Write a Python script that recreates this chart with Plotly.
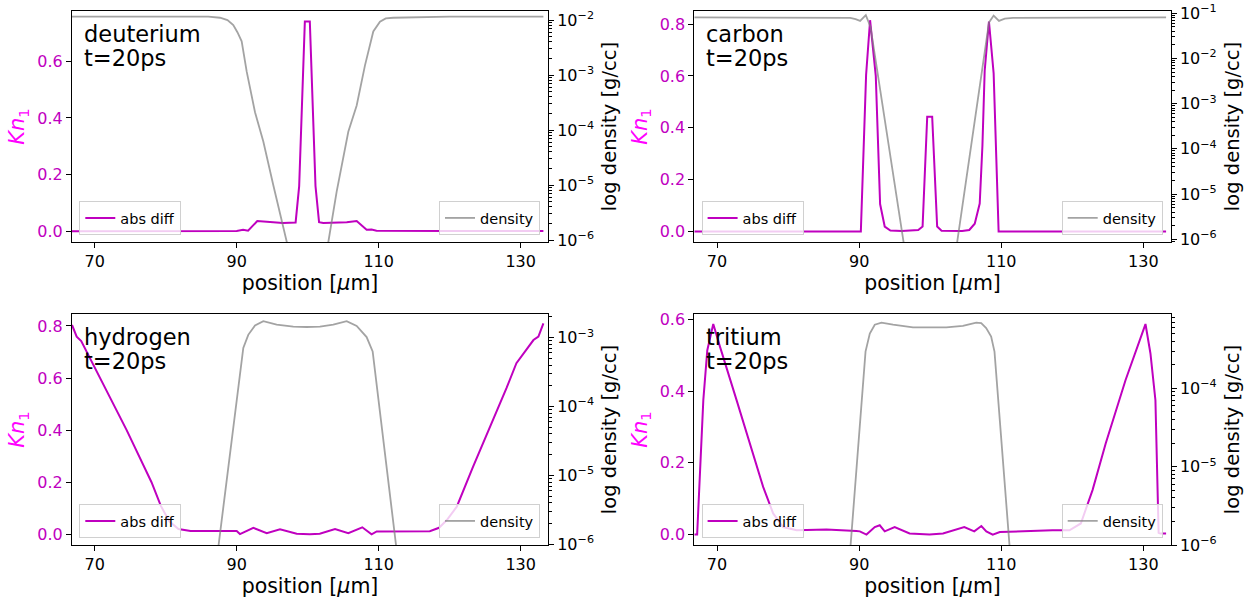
import plotly.graph_objects as go

# ---------------- data ----------------
species = ["deuterium", "carbon", "hydrogen", "tritium"]
time_label = "t=20ps"

# deuterium
deut_kn_x = [66.8, 80, 90.0, 90.9, 91.6, 92.9, 94.2, 96.5, 98.3, 98.8, 99.6, 100.3, 101.1, 101.6, 102.2,
             105.5, 106.9, 108.3, 109.0, 109.7, 120, 133.2]
deut_kn_y = [0.001, 0.001, 0.002, 0.006, 0.003, 0.037, 0.035, 0.030, 0.032, 0.16, 0.74, 0.74, 0.16, 0.033,
             0.030, 0.033, 0.037, 0.006, 0.007, 0.003, 0.002, 0.002]
deut_rho_x = [66.8, 86.0, 87.65, 88.7, 89.52, 90.1, 90.70, 91.41, 92.58, 93.75, 95.15, 97.04, 98.1,
              102.3, 102.90, 104.08, 105.72, 106.90, 108.07, 109.24, 110.18, 111.0, 112.06, 120.0, 133.2]
deut_rho_y = [1.15e-2, 1.15e-2, 1.10e-2, 1.0e-2, 8.1e-3, 6.0e-3, 4.1e-3, 1.15e-3, 2.1e-4, 6.2e-5, 1.0e-5,
              9.1e-7, 2.5e-7, 2.5e-7, 9.1e-7, 7.6e-6, 9.3e-5, 2.8e-4, 1.5e-3, 6.2e-3, 9.3e-3, 1.07e-2,
              1.1e-2, 1.15e-2, 1.15e-2]

# carbon
carb_kn_x = [66.8, 90.24, 90.98, 91.54, 92.34, 92.95, 93.6, 94.4, 96.0, 98.32, 98.93, 99.58, 100.28,
             100.98, 101.6, 104.5, 105.5, 106.27, 106.97, 107.35, 107.67, 108.27, 108.93, 109.63, 133.2]
carb_kn_y = [0.0, 0.0, 0.604, 0.815, 0.6, 0.106, 0.019, 0.004, 0.002, 0.006, 0.019, 0.443, 0.443,
             0.019, 0.003, 0.002, 0.006, 0.03, 0.108, 0.33, 0.62, 0.81, 0.61, 0.0, 0.0]
carb_rho_x = [66.8, 87.5, 88.74, 89.5, 90.14, 90.94, 91.6, 97.5, 102.5, 108.28, 108.93, 109.68, 110.5,
              111.65, 133.2]
carb_rho_y = [8.1e-2, 8.1e-2, 7.9e-2, 7.4e-2, 6.8e-2, 9.1e-2, 5.0e-2, 4.6e-8, 3.4e-8, 6.3e-2, 8.9e-2,
              6.8e-2, 7.6e-2, 7.9e-2, 8.1e-2]

# hydrogen
hydr_kn_x = [66.8, 67.46, 68.1, 70.7, 74.5, 78.0, 79.3, 80.5, 81.8, 83.5, 90.0, 90.46, 92.34, 94.23,
             96.1, 98.45, 100.3, 101.7, 103.85, 105.72, 107.69, 109.0, 109.72, 117.2, 118.5, 119.6,
             121.0, 123.3, 124.7, 127.1, 128.0, 129.4, 130.85, 131.8, 132.5, 133.2]
hydr_kn_y = [0.804, 0.759, 0.742, 0.605, 0.40, 0.20, 0.11, 0.05, 0.02, 0.013, 0.0125, 0.001, 0.025,
             0.004, 0.019, 0.002, 0.0, 0.002, 0.02, 0.004, 0.027, 0.0, 0.011, 0.012, 0.025, 0.055,
             0.106, 0.26, 0.349, 0.503, 0.561, 0.657, 0.708, 0.746, 0.759, 0.81]
hydr_rho_x = [86.2, 87.4, 90.93, 91.63, 92.58, 93.75, 95.63, 97.97, 99.85, 101.73, 103.6, 105.49,
              106.9, 108.3, 109.15, 112.5, 113.6]
hydr_rho_y = [1.0e-7, 8.9e-7, 7.1e-4, 1.1e-3, 1.5e-3, 1.74e-3, 1.55e-3, 1.45e-3, 1.43e-3, 1.45e-3,
              1.55e-3, 1.74e-3, 1.48e-3, 1.02e-3, 6.3e-4, 8.9e-7, 1.0e-7]

# tritium
trit_kn_x = [66.8, 67.2, 68.07, 68.63, 69.47, 70.41, 72.75, 75.09, 76.49, 77.9, 79.3, 81.2, 85.4, 89.6,
             90.1, 91.03, 92.2, 92.9, 93.6, 95.0, 97.1, 99.9, 101.8, 104.8, 106.2, 107.2, 107.9, 108.8,
             109.8, 117.2, 119.6, 121.2, 122.85, 124.7, 127.5, 130.3, 131.0, 131.7, 132.15, 132.4, 133.2]
trit_kn_y = [0.0, 0.0, 0.375, 0.514, 0.587, 0.524, 0.375, 0.226, 0.133, 0.059, 0.021, 0.012, 0.014, 0.01,
             0.009, 0.0, 0.021, 0.026, 0.009, 0.021, 0.003, 0.0, 0.003, 0.021, 0.009, 0.024, 0.009, 0.0,
             0.007, 0.012, 0.012, 0.031, 0.124, 0.254, 0.431, 0.587, 0.505, 0.375, 0.005, 0.003, 0.003]
trit_rho_x = [87.95, 88.8, 90.9, 91.5, 92.2, 93.14, 94.77, 97.58, 100.0, 102.27, 104.6, 106.48, 107.18,
              107.88, 108.58, 109.05, 111.16, 112.0]
trit_rho_y = [1.0e-7, 1.0e-6, 2.95e-4, 5.0e-4, 6.5e-4, 6.9e-4, 6.5e-4, 6.0e-4, 6.0e-4, 6.0e-4, 6.3e-4,
              6.9e-4, 6.8e-4, 5.9e-4, 4.6e-4, 2.95e-4, 1.0e-6, 1.0e-7]

kn_x = [deut_kn_x, carb_kn_x, hydr_kn_x, trit_kn_x]
kn_y = [deut_kn_y, carb_kn_y, hydr_kn_y, trit_kn_y]
rho_x = [deut_rho_x, carb_rho_x, hydr_rho_x, trit_rho_x]
rho_y = [deut_rho_y, carb_rho_y, hydr_rho_y, trit_rho_y]

x_ticks = [70, 90, 110, 130]
kn_ticks = [[0, 0.2, 0.4, 0.6], [0, 0.2, 0.4, 0.6, 0.8], [0, 0.2, 0.4, 0.6, 0.8], [0, 0.2, 0.4, 0.6]]
kn_ranges = [[-0.037, 0.777], [-0.0405, 0.8505], [-0.041, 0.846], [-0.029, 0.615]]
rho_ranges = [[-6.036, -1.836], [-6.06, -0.949], [-6.01, -2.656], [-6.0, -3.05]]
rho_decades = [[-6, -5, -4, -3, -2], [-6, -5, -4, -3, -2, -1], [-6, -5, -4, -3], [-6, -5, -4]]

# ---------------- layout geometry ----------------
W, H = 1253, 604
col_px = [(72, 548), (694.3, 1170.7)]
row_px = [(11, 242), (314, 545)]

MAG = "#bf00bf"
MAG_LABEL = "#ff00ff"
GRAY = "rgba(128,128,128,0.72)"
FONT = "DejaVu Sans"

fig = go.Figure()
layout = dict(
    template="none",
    width=W, height=H, margin=dict(l=0, r=0, t=0, b=0, autoexpand=False),
    paper_bgcolor="white", plot_bgcolor="white",
    font=dict(family=FONT, size=16, color="black"),
    showlegend=True,
)
annotations = []

sup = {-6: "10<sup>−6</sup>", -5: "10<sup>−5</sup>", -4: "10<sup>−4</sup>", -3: "10<sup>−3</sup>",
       -2: "10<sup>−2</sup>", -1: "10<sup>−1</sup>"}


def axid(letter, n):
    return letter if n == 1 else f"{letter}{n}"


for i in range(4):
    r, c = divmod(i, 2)
    x0, x1 = col_px[c]
    ytop, ybot = row_px[r]
    xd = [x0 / W, x1 / W]
    yd = [1 - ybot / H, 1 - ytop / H]
    xa = axid("x", i + 1)
    ya1 = axid("y", 2 * i + 1)
    ya2 = axid("y", 2 * i + 2)
    xkey = "xaxis" + xa[1:]
    y1key = "yaxis" + ya1[1:]
    y2key = "yaxis" + ya2[1:]
    lg1 = axid("legend", 2 * i + 1)
    lg2 = axid("legend", 2 * i + 2)

    fig.add_trace(go.Scatter(x=kn_x[i], y=kn_y[i], mode="lines", name="abs diff",
                             line=dict(color=MAG, width=2), xaxis=xa, yaxis=ya1, legend=lg1))
    fig.add_trace(go.Scatter(x=rho_x[i], y=rho_y[i], mode="lines", name="density",
                             line=dict(color=GRAY, width=1.8), xaxis=xa, yaxis=ya2, legend=lg2))

    layout[xkey] = dict(
        domain=xd, anchor=ya1, range=[66.8, 133.85], tickmode="array", tickvals=x_ticks,
        ticks="outside", ticklen=5, tickwidth=1, tickcolor="black", automargin=False,
        showline=True, mirror=True, linecolor="black", linewidth=1,
        showgrid=False, zeroline=False, tickfont=dict(size=16, color="black"),
        title=dict(text="position [<i>μ</i>m]", font=dict(size=20.5, color="black"), standoff=4),
    )
    layout[y1key] = dict(
        domain=yd, anchor=xa, range=kn_ranges[i], tickmode="array", tickvals=kn_ticks[i],
        tickformat=".1f", ticks="outside", ticklen=5, tickwidth=1, tickcolor="black",
        automargin=False,
        showline=True, mirror=True, linecolor="black", linewidth=1,
        showgrid=False, zeroline=False, tickfont=dict(size=16, color=MAG),
        title=dict(text="<i>Kn</i><sub>1</sub>", font=dict(size=21, color=MAG_LABEL), standoff=6),
    )
    minor_vals = [m * 10 ** d for d in range(-7, 0) for m in range(2, 10)]
    layout[y2key] = dict(
        overlaying=ya1, anchor=xa, side="right", type="log", range=rho_ranges[i],
        tickmode="array", tickvals=[10 ** d for d in rho_decades[i]],
        ticktext=[sup[d] for d in rho_decades[i]], automargin=False,
        ticks="outside", ticklen=5, tickwidth=1, tickcolor="black",
        minor=dict(tickmode="array", tickvals=minor_vals, ticks="outside", ticklen=3,
                   tickwidth=0.8, tickcolor="black", showgrid=False),
        showline=False, showgrid=False, zeroline=False, tickfont=dict(size=16, color="black"),
        title=dict(text="log density [g/cc]", font=dict(size=19.5, color="black"), standoff=9),
    )
    legend_common = dict(bgcolor="rgba(255,255,255,0.8)", bordercolor="#d0d0d0", borderwidth=1,
                         font=dict(size=14.5, color="black"), yanchor="bottom")
    layout[lg1] = dict(legend_common, x=(x0 + 7.3) / W, y=1 - (ybot - 7) / H, xanchor="left")
    layout[lg2] = dict(legend_common, x=(x1 - 8) / W, y=1 - (ybot - 7) / H, xanchor="right")

    # two-line panel label ("species" / "t=20ps")
    for k, (txt, base_px) in enumerate([(species[i], 41.7), (time_label, 66.0)]):
        centre_px = base_px - 0.35 * 22.5
        annotations.append(dict(
            text=txt, xref=f"{xa} domain", yref=f"{ya1} domain",
            x=10.0 / (x1 - x0), y=1 - (centre_px - 11) / (ybot - ytop), xanchor="left",
            yanchor="middle", align="left", showarrow=False,
            font=dict(size=22.5, color="black", family=FONT),
        ))

layout["annotations"] = annotations
fig.update_layout(**layout)
fig.write_html("out.html", config={"displayModeBar": False},
               post_script="document.body.style.margin='0';document.body.style.overflow='hidden';")
